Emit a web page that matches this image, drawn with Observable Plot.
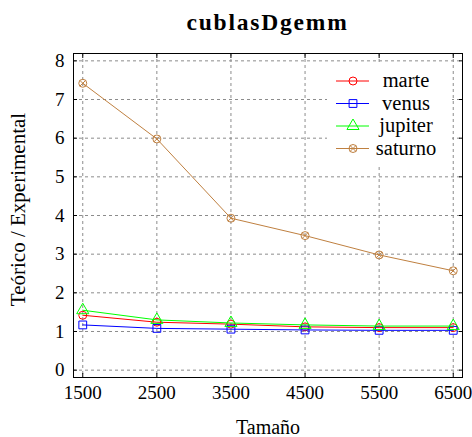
<!DOCTYPE html>
<html><head><meta charset="utf-8">
<script src="https://cdn.jsdelivr.net/npm/d3@7"></script>
<script src="https://cdn.jsdelivr.net/npm/@observablehq/plot@0.6"></script>
<style>
body{margin:0;background:#fff;}
#wrap{position:relative;width:472px;height:437px;font-family:"Liberation Serif","DejaVu Serif",serif;color:#000;}
#title{height:40px;box-sizing:border-box;padding:10px 10px 0 73px;text-align:center;font-weight:bold;font-size:23.5px;letter-spacing:1.8px;line-height:24px;}
#legend{position:absolute;left:327px;top:63px;width:125px;height:104px;background:#fff;}
#wrap svg text{font-family:"Liberation Serif","DejaVu Serif",serif !important;}
</style></head><body>
<div id="wrap"><div id="title">cublasDgemm</div><div id="chart"></div><div id="legend"></div></div>
<script>
const sizes = [1500, 2500, 3500, 4500, 5500, 6500];
const marte = [1.42, 1.24, 1.19, 1.12, 1.10, 1.10];
const venus = [1.17, 1.08, 1.06, 1.04, 1.03, 1.03];
const jupiter = [1.55, 1.30, 1.22, 1.17, 1.14, 1.14];
const saturno = [7.42, 5.98, 3.93, 3.48, 2.98, 2.57];
const seriesNames = ["marte", "venus", "jupiter", "saturno"];
const xTicks = [1500, 2500, 3500, 4500, 5500, 6500];
const yTicks = [0, 1, 2, 3, 4, 5, 6, 7, 8];
const xLabel = "Tamaño";
const yLabel = "Teórico / Experimental";

const serif = "'Liberation Serif', 'DejaVu Serif', serif";
const seriesValues = {marte, venus, jupiter, saturno};
const colors = {marte: "#ff0000", venus: "#0000ff", jupiter: "#00ff00", saturno: "#bf8040"};
const symbols = {marte: "circle", venus: "square", jupiter: "triangle", saturno: "circle"};
const rows = seriesNames.flatMap(s => sizes.map((x, i) => ({series: s, x, y: seriesValues[s][i]})));

const marks = [
  Plot.gridX(xTicks, {stroke: "#8c8c8c", strokeOpacity: 1, strokeDasharray: "3,3"}),
  Plot.gridY(yTicks, {stroke: "#8c8c8c", strokeOpacity: 1, strokeDasharray: "3,3"}),
  Plot.axisX(xTicks, {anchor: "bottom", tickSize: -4, tickPadding: 12, fontSize: 19, fontFamily: serif, tickFormat: d => String(d), label: null}),
  Plot.axisX(xTicks, {anchor: "top", tickSize: -4, tickFormat: () => "", label: null}),
  Plot.axisY(yTicks, {anchor: "left", tickSize: -4, tickPadding: 13, fontSize: 19, fontFamily: serif, tickFormat: d => String(d), label: null}),
  Plot.axisY(yTicks, {anchor: "right", tickSize: -4, tickFormat: () => "", label: null}),
];
for (const s of seriesNames) {
  const data = rows.filter(d => d.series === s);
  marks.push(Plot.line(data, {x: "x", y: "y", stroke: colors[s], strokeWidth: 1}));
  marks.push(Plot.dot(data, {x: "x", y: "y", stroke: colors[s], strokeWidth: 1, fill: "none", symbol: symbols[s], r: s === "venus" ? 4.4 : s === "jupiter" ? 4.5 : 4}));
  if (s === "saturno") marks.push(Plot.dot(data, {x: "x", y: "y", stroke: colors[s], strokeWidth: 1, symbol: "times", r: 2.7}));
}
marks.push(Plot.frame({stroke: "#000", strokeWidth: 1}));
marks.push(Plot.text([xLabel], {text: d => d, frameAnchor: "bottom", dy: 50, lineAnchor: "middle", textAnchor: "middle", fontFamily: serif, fontSize: 20, fill: "#000"}));
marks.push(Plot.text([yLabel], {text: d => d, frameAnchor: "left", dx: -55, dy: -6, rotate: -90, lineAnchor: "middle", textAnchor: "middle", fontFamily: serif, fontSize: 21, fill: "#000"}));

const chart = Plot.plot({
  width: 472, height: 397,
  marginLeft: 73, marginRight: 10, marginTop: 13, marginBottom: 60,
  style: {fontFamily: serif, fontSize: "19px", color: "#000", background: "#fff"},
  x: {domain: [1375, 6625], label: null},
  y: {domain: [-0.19, 8.19], label: null},
  marks
});
document.getElementById("chart").appendChild(chart);

// legend
const lg = d3.select("#legend").append("svg").attr("width", 125).attr("height", 104);
const rowY = [17.5, 40, 62.5, 85];
const symMap = {circle: d3.symbolCircle, square: d3.symbolSquare, triangle: d3.symbolTriangle};
seriesNames.forEach((s, i) => {
  const g = lg.append("g").attr("transform", `translate(0,${rowY[i]})`);
  g.append("line").attr("x1", 9).attr("x2", 42).attr("y1", 0.5).attr("y2", 0.5).attr("stroke", colors[s]).attr("stroke-width", 1);
  const r = s === "venus" ? 4.4 : s === "jupiter" ? 4.5 : 4;
  g.append("path").attr("transform", "translate(26,0.5)").attr("d", d3.symbol(symMap[symbols[s]], Math.PI * r * r)())
    .attr("fill", "none").attr("stroke", colors[s]);
  if (s === "saturno") g.append("path").attr("transform", "translate(26,0.5)").attr("d", d3.symbol(d3.symbolTimes, Math.PI * 2.7 * 2.7)())
    .attr("fill", "none").attr("stroke", colors[s]);
  g.append("text").attr("x", 79).attr("y", 0).attr("dy", "0.32em").attr("text-anchor", "middle")
    .attr("font-size", 20.5).style("font-family", serif).text(s);
});
</script>
</body></html>
